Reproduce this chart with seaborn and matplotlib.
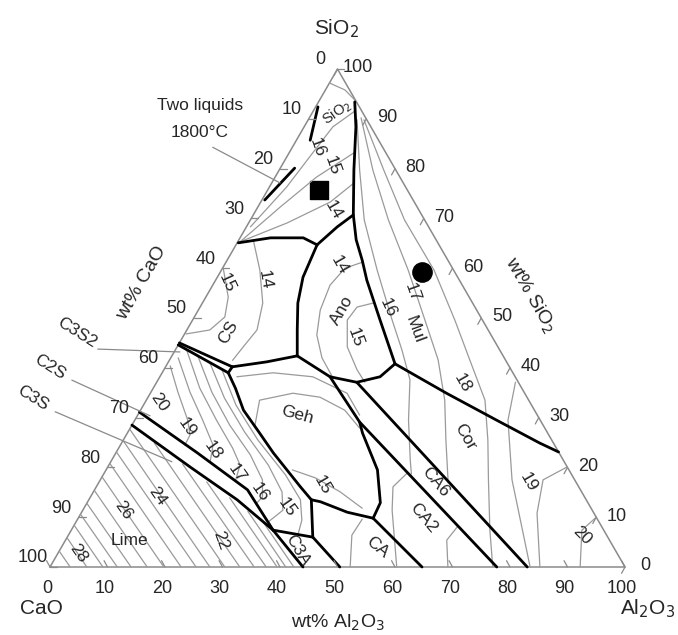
import numpy as np
import pandas as pd
import matplotlib
matplotlib.use("Agg")
import matplotlib.pyplot as plt
import seaborn as sns

# CaO-Al2O3-SiO2 liquidus diagram, every point is (wt% Al2O3, wt% SiO2), CaO is the rest

# thick phase boundaries
two_liq_a = [(0.4, 92.4), (2.4, 85.7)]
two_liq_b = [(2.5, 80.1), (0.5, 73.7)]
silica_mul = [(6.3, 93.4), (9.0, 88.4), (13.0, 79.7), (17.4, 70.7), (20.4, 65.7),
              (23.5, 61.6), (26.3, 57.6), (32.6, 49.6), (39.6, 40.8)]
silica_ano = [(17.4, 70.7), (15.8, 68.3), (14.1, 64.7)]
silica_cs = [(0.2, 65.1), (5.3, 66.1), (11.0, 66.1), (14.1, 64.7)]
cs_ano = [(14.1, 64.7), (14.9, 58.2), (16.6, 53.0), (19.2, 47.6), (21.8, 42.4)]
cs_geh = [(21.8, 42.4), (17.1, 41.2), (11.6, 40.2)]
c3s2_top = [(0.0, 45.0), (11.6, 40.2)]
c3s2_bot = [(0.0, 44.6), (11.5, 39.0)]
c3s2_cap = [(11.6, 40.2), (11.5, 39.0)]
geh_c2s = [(11.5, 39.0), (14.3, 35.9), (17.9, 31.5), (23.0, 26.9), (27.4, 22.9),
           (35.5, 16.1), (38.7, 13.5)]
geh_c3a = [(38.7, 13.5), (42.7, 6.0)]
c3a_c12a7 = [(42.7, 6.0), (50.4, 0.0)]
c3a_top = [(35.1, 7.4), (42.7, 6.0)]
c3a_lime = [(35.1, 7.4), (44.0, 0.0)]
geh_lens_bot = [(38.7, 13.5), (40.5, 13.1), (46.2, 11.0), (51.3, 9.8)]
geh_lens_right = [(39.3, 29.1), (40.9, 26.9), (47.2, 19.5), (51.0, 12.9), (51.3, 9.8)]
ca_ca2 = [(51.3, 9.8), (64.7, 0.0)]
ca2_ca6 = [(21.8, 42.4), (29.6, 38.2), (39.3, 29.1), (77.7, 0.0)]
ano_lens = [(29.6, 38.2), (34.8, 37.1), (38.3, 38.2), (39.6, 40.8)]
ca6_cor = [(34.8, 37.1), (83.0, 0.0)]
cor_mul = [(39.6, 40.8), (51.5, 34.9), (62.9, 29.5), (72.7, 24.9), (76.9, 23.1)]
c2s_c3s = [(0.0, 31.1), (14.2, 22.9), (26.6, 15.5), (35.1, 7.4)]
c3s_lime = [(0.0, 28.5), (14.3, 20.1), (25.8, 13.5), (35.1, 7.4)]

# thin isotherms
iso_apex = [(0.0, 97.2), (3.4, 95.8), (6.1, 93.8)]
iso_s16 = [(0.7, 68.3), (3.0, 76.3), (4.1, 83.1), (5.0, 88.4), (7.2, 91.5)]
iso_s15 = [(0.4, 65.3), (3.9, 72.3), (7.2, 78.3), (11.3, 83.2)]
iso_s14 = [(0.4, 65.3), (6.7, 69.1), (12.1, 73.3), (14.3, 77.1)]
iso_cs15 = [(0.0, 60.2), (3.9, 54.2), (5.3, 50.2), (4.0, 47.6), (0.25, 46.8)]
iso_cs14 = [(2.5, 65.7), (6.7, 59.6), (10.5, 53.0), (12.2, 47.6), (11.5, 44.2), (11.0, 41.5)]
iso_ano14 = [(23.7, 61.2), (21.3, 60.0), (20.4, 56.6), (21.2, 51.6), (23.1, 46.6),
             (26.3, 42.0), (30.2, 38.0)]
iso_ano15 = [(29.7, 53.0), (27.3, 52.2), (26.9, 49.6), (29.6, 44.2), (33.6, 39.6), (36.2, 37.1)]
iso_mul16 = [(8.5, 89.8), (14.0, 79.7), (19.8, 69.7), (27.1, 59.6), (34.7, 49.6),
             (39.4, 43.6), (43.8, 37.6), (47.6, 29.5), (51.9, 21.5), (53.5, 18.7)]
iso_mul17 = [(9.0, 90.2), (16.3, 79.7), (24.0, 69.7), (32.5, 59.6), (40.4, 49.6),
             (46.7, 41.6), (51.9, 33.5), (56.1, 25.5), (60.8, 16.9)]
iso_mul18 = [(9.7, 89.8), (18.2, 79.7), (26.8, 69.7), (37.0, 59.6), (45.6, 49.6),
             (52.2, 41.6), (58.9, 33.5), (63.4, 25.5), (67.5, 17.5), (72.8, 7.4), (77.0, 0.0)]
iso_cor = [(62.4, 37.1), (64.9, 29.5), (71.6, 17.5), (83.5, 0.0)]
iso_cor19 = [(79.9, 20.1), (77.0, 17.5), (79.3, 10.8), (85.2, 0.0)]
iso_cor20 = [(90.0, 10.0), (88.8, 7.4), (92.2, 0.0)]
iso_ca2 = [(52.7, 18.9), (51.6, 16.1), (53.8, 11.4), (60.3, 0.0)]
iso_ca = [(49.5, 9.6), (49.3, 6.4), (52.2, 0.0)]
iso_ca2b = [(66.8, 8.0), (66.3, 5.4), (69.2, 0.0)]
iso_geh1 = [(13.4, 38.2), (19.3, 39.0), (26.6, 38.2), (34.2, 34.9), (38.6, 30.5)]
iso_geh2 = [(21.4, 28.5), (19.7, 33.5), (24.8, 34.9), (29.9, 34.1), (35.5, 31.5), (39.9, 27.9)]
iso_geh15 = [(32.4, 19.5), (37.2, 17.9), (42.9, 15.1), (48.4, 11.8)]
iso_c2s20 = [(0.7, 40.4), (4.7, 35.1), (9.2, 29.5), (11.1, 26.5), (11.2, 24.5)]
iso_c2s19 = [(1.3, 42.0), (6.8, 35.1), (11.8, 29.5), (16.1, 24.5), (17.3, 21.1)]
iso_c2s18 = [(1.8, 43.8), (8.1, 35.9), (14.2, 29.5), (19.8, 23.9), (22.8, 20.5), (23.6, 17.3)]
iso_c2s17 = [(4.5, 42.4), (10.6, 35.1), (17.0, 28.5), (23.6, 22.5), (28.2, 17.5),
             (29.9, 14.1), (29.5, 12.7)]
iso_c2s16 = [(7.3, 41.0), (13.4, 33.9), (20.3, 27.1), (27.7, 20.5), (32.8, 15.1),
             (34.8, 11.4), (33.4, 9.0)]
iso_c2s15 = [(10.1, 39.6), (16.1, 32.5), (23.4, 25.5), (31.7, 18.5), (36.8, 13.5),
             (39.1, 9.4), (39.9, 6.4)]

# lime field isotherms: start (Al2O3, SiO2) and the Al2O3 where they meet the base
lime_start = [(0, 3.2), (0, 5.9), (0, 8.4), (0, 10.6), (0, 12.8), (0, 15.4), (0, 18.1),
              (0, 20.8), (0, 23.1), (0, 25.4), (0, 27.7), (5.7, 24.9), (12.7, 20.7),
              (18.7, 17.1), (24.3, 13.9), (28.8, 11.2), (32.8, 8.8)]
lime_end_al = [3.5, 6.4, 9.2, 11.7, 14.1, 16.9, 19.8, 22.8, 25.4, 27.8, 30.4,
               33.0, 35.5, 37.6, 39.5, 41.0, 42.4]

# sample points
square_pt = (8.9, 75.7)
circle_pt = (35.1, 59.2)

# field and isotherm labels: text, Al2O3, SiO2, rotation
field_labels = [
    ("16", 4.3, 84.3, -70), ("15", 8.7, 80.7, -70), ("14", 13.4, 71.7, -60),
    ("15", 2.3, 57.0, -65), ("14", 8.6, 57.6, -80), ("CS", 7.4, 47.2, 60),
    ("14", 20.1, 60.6, -60), ("Ano", 25.0, 51.6, 60), ("15", 30.0, 46.0, -70),
    ("16", 32.8, 52.0, -65), ("17", 35.4, 55.2, -70), ("Mul", 39.7, 47.6, -70),
    ("18", 53.3, 36.9, -60), ("Cor", 59.1, 26.1, -60), ("CA6", 58.4, 17.1, -50),
    ("CA2", 60.0, 9.8, -50), ("19", 74.6, 17.1, -60), ("20", 89.3, 6.4, -45),
    ("Geh", 27.7, 30.5, -15), ("15", 39.1, 16.5, -60), ("CA", 54.9, 4.0, -40),
    ("C3A", 41.3, 3.4, -60), ("20", 2.5, 33.1, -55), ("19", 9.7, 28.1, -55),
    ("18", 16.5, 23.5, -55), ("17", 23.1, 18.9, -55), ("16", 29.1, 14.9, -55),
    ("15", 35.2, 12.0, -55), ("24", 11.6, 14.1, -55), ("26", 7.0, 11.4, -55),
    ("28", 3.5, 2.8, -55), ("22", 26.9, 5.4, -70), ("Lime", 11.2, 5.4, 0),
]

ticks = [0, 10, 20, 30, 40, 50, 60, 70, 80, 90, 100]

SQ = np.sqrt(3) / 2


def to_xy(pts):
    a = np.asarray(pts, dtype=float)
    return a[:, 0] + a[:, 1] / 2, a[:, 1] * SQ


def frame(curves):
    parts = []
    for name, pts in curves.items():
        x, y = to_xy(pts)
        parts.append(pd.DataFrame({"x": x, "y": y, "curve": name}))
    return pd.concat(parts, ignore_index=True)


bounds = dict(two_liq_a=two_liq_a, two_liq_b=two_liq_b, silica_mul=silica_mul,
              silica_ano=silica_ano, silica_cs=silica_cs, cs_ano=cs_ano, cs_geh=cs_geh,
              c3s2_top=c3s2_top, c3s2_bot=c3s2_bot, c3s2_cap=c3s2_cap, geh_c2s=geh_c2s,
              geh_c3a=geh_c3a, c3a_c12a7=c3a_c12a7, c3a_top=c3a_top, c3a_lime=c3a_lime,
              geh_lens_bot=geh_lens_bot, geh_lens_right=geh_lens_right, ca_ca2=ca_ca2,
              ca2_ca6=ca2_ca6, ano_lens=ano_lens, ca6_cor=ca6_cor, cor_mul=cor_mul,
              c2s_c3s=c2s_c3s, c3s_lime=c3s_lime)

isos = dict(iso_apex=iso_apex, iso_s16=iso_s16, iso_s15=iso_s15, iso_s14=iso_s14,
            iso_cs15=iso_cs15, iso_cs14=iso_cs14, iso_ano14=iso_ano14, iso_ano15=iso_ano15,
            iso_mul16=iso_mul16, iso_mul17=iso_mul17, iso_mul18=iso_mul18, iso_cor=iso_cor,
            iso_cor19=iso_cor19, iso_cor20=iso_cor20, iso_ca2=iso_ca2, iso_ca=iso_ca,
            iso_ca2b=iso_ca2b, iso_geh1=iso_geh1, iso_geh2=iso_geh2, iso_geh15=iso_geh15,
            iso_c2s20=iso_c2s20, iso_c2s19=iso_c2s19, iso_c2s18=iso_c2s18,
            iso_c2s17=iso_c2s17, iso_c2s16=iso_c2s16, iso_c2s15=iso_c2s15)
for i, (st, ea) in enumerate(zip(lime_start, lime_end_al)):
    isos["lime%d" % i] = [st, (ea, 0.0)]

edges = {"edge": [(0, 0), (100, 0), (0, 100), (0, 0)]}

sns.set_theme(style="white")
plt.rcParams["font.family"] = ["Liberation Sans", "DejaVu Sans"]
txt = "#262626"

fig = plt.figure(figsize=(6.78, 6.35), dpi=100)
ax = fig.add_axes([0, 0, 1, 1])
ax.set_xlim(-8.696, 109.217)
ax.set_ylim(-11.826, 98.609)
ax.axis("off")

sns.lineplot(data=frame(edges), x="x", y="y", units="curve", estimator=None, sort=False,
             color="#8a8a8a", linewidth=1.1, legend=False, ax=ax)
sns.lineplot(data=frame(isos), x="x", y="y", units="curve", estimator=None, sort=False,
             color="#9a9a9a", linewidth=0.9, legend=False, ax=ax)
sns.lineplot(data=frame(bounds), x="x", y="y", units="curve", estimator=None, sort=False,
             color="black", linewidth=2.0, legend=False, ax=ax)

# tick marks and numbers
for v in ticks:
    bx, by = to_xy([(v, 0)])
    ax.plot([bx[0], bx[0] - 0.6], [by[0], by[0] + 1.1], color="#8a8a8a", lw=0.9)
    ax.text(bx[0] - 0.5, by[0] - 3.7, str(v), ha="center", va="center", fontsize=13, color=txt)
    lx, ly = to_xy([(0, 100 - v)])
    ax.plot([lx[0], lx[0] + 1.2], [ly[0], ly[0]], color="#8a8a8a", lw=0.9)
    ax.text(lx[0] - 3.0, ly[0] + 1.6, str(v), ha="center", va="center", fontsize=13, color=txt)
    rx, ry = to_xy([(100 - v, v)])
    ax.plot([rx[0], rx[0] - 0.6], [ry[0], ry[0] - 1.1], color="#8a8a8a", lw=0.9)
    ax.text(rx[0] + 3.6, ry[0] + 0.2, str(v), ha="center", va="center", fontsize=13, color=txt)

# sample markers
sx, sy = to_xy([square_pt])
cx, cy = to_xy([circle_pt])
sns.scatterplot(x=sx, y=sy, marker="s", s=150, color="black", edgecolor="black", ax=ax)
sns.scatterplot(x=cx, y=cy, marker="o", s=190, color="black", edgecolor="black", ax=ax)

for t, al, si, rot in field_labels:
    x, y = to_xy([(al, si)])
    ax.text(x[0], y[0], t, rotation=rot, ha="center", va="center", fontsize=12.5,
            color=txt, rotation_mode="anchor")
x, y = to_xy([(4.3, 91.2)])
ax.text(x[0], y[0], "SiO$_2$", rotation=35, ha="center", va="center", fontsize=10.5,
        color=txt, rotation_mode="anchor")

# leader lines (outside the triangle, given in plot units)
leaders = [((28.3, 73.0), (40.0, 66.8)), ((8.3, 37.9), (22.6, 37.4)),
           ((3.8, 32.5), (17.4, 26.3)), ((0.9, 27.0), (21.2, 18.3))]
for (x0, y0), (x1, y1) in leaders:
    ax.plot([x0, x1], [y0, y1], color="#8a8a8a", lw=0.9)

ax.text(26.1, 80.3, "Two liquids", ha="center", va="center", fontsize=12.5, color=txt)
ax.text(26.1, 75.6, "1800°C", ha="center", va="center", fontsize=12.5, color=txt)
ax.text(4.7, 40.7, "C3S2", rotation=-32, ha="center", va="center", fontsize=12.5, color=txt)
ax.text(0.0, 34.8, "C2S", rotation=-32, ha="center", va="center", fontsize=12.5, color=txt)
ax.text(-3.0, 29.4, "C3S", rotation=-32, ha="center", va="center", fontsize=12.5, color=txt)

ax.text(49.9, 93.7, "SiO$_2$", ha="center", va="center", fontsize=15, color=txt)
ax.text(-1.5, -7.2, "CaO", ha="center", va="center", fontsize=15, color=txt)
ax.text(104.0, -7.2, "Al$_2$O$_3$", ha="center", va="center", fontsize=15, color=txt)
ax.text(50.1, -9.7, "wt% Al$_2$O$_3$", ha="center", va="center", fontsize=14, color=txt)
ax.text(16.0, 49.4, "wt% CaO", rotation=60, ha="center", va="center", fontsize=14, color=txt)
ax.text(83.5, 47.3, "wt% SiO$_2$", rotation=-60, ha="center", va="center", fontsize=14, color=txt)

fig.savefig("out.png", dpi=100)
